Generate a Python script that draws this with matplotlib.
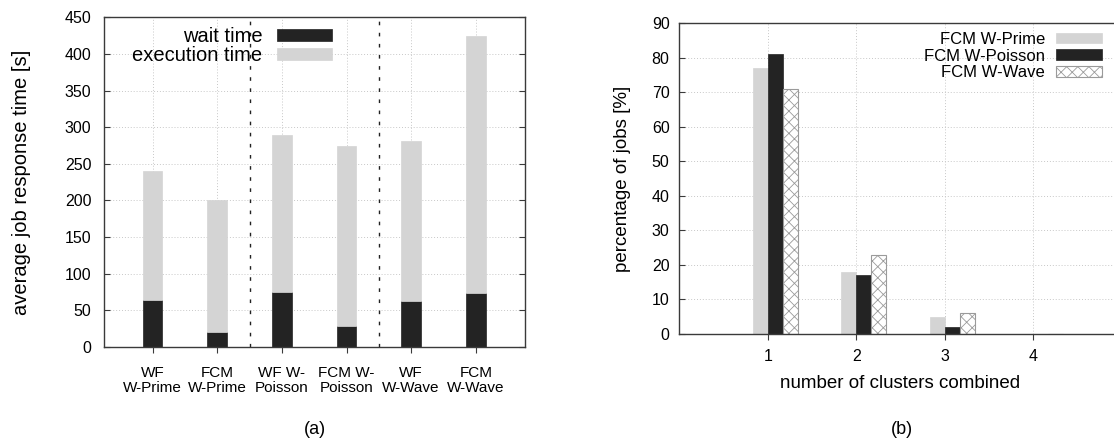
import numpy as np
import matplotlib
matplotlib.use("Agg")
import matplotlib.pyplot as plt

plt.rcParams['font.family'] = ['Liberation Sans', 'DejaVu Sans']
plt.rcParams['hatch.linewidth'] = 0.6

# (a) response time per setup
setups = ["WF\nW-Prime", "FCM\nW-Prime", "WF W-\nPoisson", "FCM W-\nPoisson", "WF\nW-Wave", "FCM\nW-Wave"]
wait_time = [64, 20, 75, 29, 63, 74]
total_time = [240, 200, 290, 275, 281, 425]
separators = [1.5, 3.5]

# (b) share of jobs by number of clusters combined
clusters = [1, 2, 3, 4]
w_prime = [77, 18, 5, 0]
w_poisson = [81, 17, 2, 0]
w_wave = [71, 23, 6, 0]

DARK = "#232323"
LIGHT = "#d4d4d4"
SPINE = "#3a3a3a"
GRID = "#c8c8c8"

fig = plt.figure(figsize=(11.14, 4.43), dpi=100)
W, H = 1114, 443

def px_axes(l, t, r, b):
    return fig.add_axes([l / W, 1 - b / H, (r - l) / W, (b - t) / H])

def style(ax):
    for s in ax.spines.values():
        s.set_color(SPINE)
        s.set_linewidth(1.0)
    ax.grid(True, linestyle=(0, (1, 2)), color=GRID, linewidth=0.7)
    ax.set_axisbelow(True)

# ---- left panel
ax1 = px_axes(104, 17.3, 525, 347)
style(ax1)
x = np.arange(len(setups))
exec_time = np.array(total_time) - np.array(wait_time)
ax1.bar(x, wait_time, width=0.3, color=DARK, edgecolor=DARK, linewidth=0.5, label="wait time")
ax1.bar(x, exec_time, width=0.3, bottom=wait_time, color=LIGHT, edgecolor=LIGHT, linewidth=0.5, label="execution time")
for s in separators:
    ax1.axvline(s, color="#222222", linewidth=1.0, linestyle=(0, (2.6, 5.4)))
ax1.set_xlim(-0.75, 5.76)
ax1.set_ylim(0, 450)
ax1.set_yticks(np.arange(0, 451, 50))
ax1.set_xticks(x)
ax1.set_xticklabels(setups, fontsize=11, linespacing=1.05)
ax1.tick_params(axis='y', direction='in', length=4, pad=9, labelsize=11.5, right=True, color=SPINE)
ax1.tick_params(axis='x', direction='out', length=4, pad=10, color=SPINE)
ax1.set_ylabel("average job response time [s]", fontsize=14.5)
ax1.yaxis.set_label_coords(-0.173, 0.5)
ax1.legend(loc='upper right', bbox_to_anchor=(0.5416, 0.97), frameon=False, markerfirst=False,
           fontsize=14.5, handlelength=2.75, handleheight=0.55, handletextpad=0.7,
           labelspacing=0.0, borderpad=0, borderaxespad=0)

# ---- right panel
ax2 = px_axes(679.3, 23.3, 1121.8, 334)
style(ax2)
bw = 0.17
xc = np.array(clusters)
ax2.bar(xc - bw / 2, w_prime, width=bw, color=LIGHT, edgecolor=LIGHT, linewidth=0.5, label="FCM W-Prime")
ax2.bar(xc + bw / 2, w_poisson, width=bw, color=DARK, edgecolor=DARK, linewidth=0.5, label="FCM W-Poisson")
ax2.bar(xc + 1.5 * bw, w_wave, width=bw, color="white", edgecolor="#9a9a9a", hatch="xxx", linewidth=0.8, label="FCM W-Wave")
ax2.set_xlim(0, 5)
ax2.set_ylim(0, 90)
ax2.set_yticks(np.arange(0, 91, 10))
ax2.set_xticks(clusters)
ax2.tick_params(axis='y', direction='in', length=4, pad=7, labelsize=11.5, color=SPINE)
ax2.tick_params(axis='x', direction='out', length=4, pad=7, labelsize=11.5, color=SPINE)
ax2.set_ylabel("percentage of jobs [%]", fontsize=13.5)
ax2.yaxis.set_label_coords(-0.109, 0.5)
ax2.set_xlabel("number of clusters combined", fontsize=13.5, va='center')
ax2.xaxis.set_label_coords(0.5, -0.158)
ax2.legend(loc='upper right', bbox_to_anchor=(0.9546, 0.972), frameon=False, markerfirst=False,
           fontsize=12, handlelength=2.75, handleheight=0.6, handletextpad=0.64,
           labelspacing=0.1, borderpad=0, borderaxespad=0)

fig.text(314.5 / W, 1 - 430 / H, "(a)", ha='center', va='center', fontsize=13)
fig.text(902 / W, 1 - 430 / H, "(b)", ha='center', va='center', fontsize=13)

fig.savefig("out.png", dpi=100)
